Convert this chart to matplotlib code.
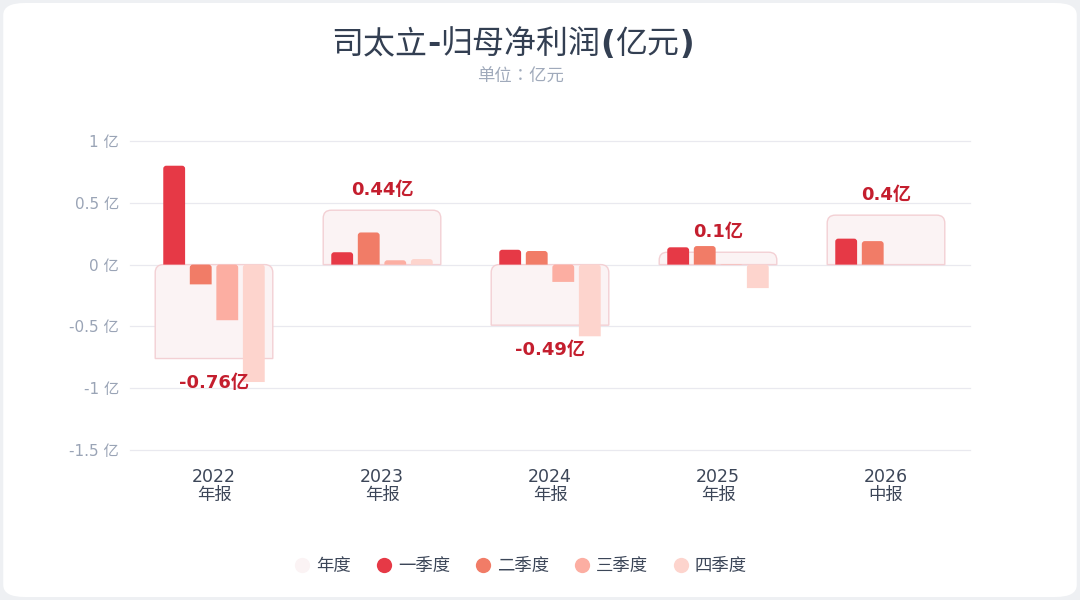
import matplotlib
matplotlib.use('Agg')
import matplotlib.pyplot as plt
import numpy as np
from matplotlib.patches import FancyBboxPatch, PathPatch
from matplotlib.path import Path
from matplotlib.lines import Line2D

plt.rcParams['font.family'] = ['DejaVu Sans', 'Noto Sans CJK SC']

years = ['2022', '2023', '2024', '2025', '2026']
periods = ['年报', '年报', '年报', '年报', '中报']
annual = [-0.76, 0.44, -0.49, 0.10, 0.40]
q1 = [0.80, 0.10, 0.12, 0.14, 0.21]
q2 = [-0.16, 0.26, 0.11, 0.15, 0.19]
q3 = [-0.45, 0.035, -0.14, -0.003, np.nan]
q4 = [-0.95, 0.045, -0.58, -0.19, np.nan]
annual_labels = ['-0.76亿', '0.44亿', '-0.49亿', '0.1亿', '0.4亿']
yticks = [-1.5, -1, -0.5, 0, 0.5, 1]
ytick_labels = ['-1.5 亿', '-1 亿', '-0.5 亿', '0 亿', '0.5 亿', '1 亿']

quarters = [q1, q2, q3, q4]
q_names = ['一季度', '二季度', '三季度', '四季度']
q_colors = ['#e63946', '#f17c67', '#fcaea2', '#fdd4cd']
box_face = '#fbf3f4'
box_edge = '#f3d0d4'
label_color = '#c41e2e'
text_dark = '#3c4658'

# title pieces: CJK in regular weight, punctuation bold (as in the reference)
title_parts = [('司太立', 'normal'), ('-', 'bold'), ('归母净利润', 'normal'),
               ('(', 'bold'), ('亿元', 'normal'), (')', 'bold')]


def top_rounded(ax, x0, w, v, r_px, **kw):
    # rectangle from 0 to v, rounded on its upper corners (radius in pixels)
    if v is None or np.isnan(v) or v == 0:
        return
    bb = ax.get_position()
    fw, fh = ax.figure.get_size_inches() * ax.figure.dpi
    xl, yl = ax.get_xlim(), ax.get_ylim()
    px_x = bb.width * fw / (xl[1] - xl[0])
    px_y = bb.height * fh / (yl[1] - yl[0])
    y0, y1 = min(0, v), max(0, v)
    rx = min(r_px / px_x, w / 2)
    ry = min(r_px / px_y, y1 - y0)
    x1 = x0 + w
    verts = [(x0, y0), (x0, y1 - ry), (x0, y1), (x0 + rx, y1), (x1 - rx, y1),
             (x1, y1), (x1, y1 - ry), (x1, y0), (x0, y0)]
    codes = [Path.MOVETO, Path.LINETO, Path.CURVE3, Path.CURVE3, Path.LINETO,
             Path.CURVE3, Path.CURVE3, Path.LINETO, Path.CLOSEPOLY]
    ax.add_patch(PathPatch(Path(verts, codes), **kw))


fig = plt.figure(figsize=(10.8, 6), dpi=100)
fig.patch.set_facecolor('#eef0f3')
card = FancyBboxPatch((0.003, 0.005), 0.994, 0.99, boxstyle='round,pad=0,rounding_size=0.02',
                      transform=fig.transFigure, facecolor='white', edgecolor='none', zorder=-10)
fig.patches.append(card)

ax = fig.add_axes([130 / 1080, 0.25, 840 / 1080, 0.515])
ax.set_facecolor('none')
x = np.arange(len(years))
ax.set_xlim(-0.5, len(years) - 0.5)
ax.set_ylim(-1.5, 1.0)

for yt in yticks:
    ax.axhline(yt, color='#e9e9ef', lw=0.9, zorder=0, clip_on=False)

box_w = 0.70
for i, v in enumerate(annual):
    top_rounded(ax, x[i] - box_w / 2, box_w, v, 8, facecolor=box_face,
                edgecolor=box_edge, lw=1, zorder=1)
    if v >= 0:
        ax.text(x[i], v + 0.09, annual_labels[i], ha='center', va='bottom',
                fontsize=13, fontweight='bold', color=label_color, zorder=5)
    else:
        ax.text(x[i], v - 0.125, annual_labels[i], ha='center', va='top',
                fontsize=13, fontweight='bold', color=label_color, zorder=5)

step = 0.158
bw = 0.13
offsets = [-1.5 * step, -0.5 * step, 0.5 * step, 1.5 * step]
for k, q in enumerate(quarters):
    for i, v in enumerate(q):
        top_rounded(ax, x[i] + offsets[k] - bw / 2, bw, v, 3, facecolor=q_colors[k],
                    edgecolor='none', lw=0, zorder=2)

ax.set_yticks(yticks)
ax.set_yticklabels(ytick_labels, fontsize=11, color='#9aa4b6')
ax.set_xticks(x)
ax.set_xticklabels([])
xt = ax.get_xaxis_transform()
for i in x:
    ax.text(i, -0.087, years[i], transform=xt, ha='center', va='center',
            fontsize=12.5, color=text_dark)
    ax.text(i, -0.145, periods[i], transform=xt, ha='center', va='center',
            fontsize=12.5, color=text_dark)
ax.tick_params(axis='both', length=0)
ax.tick_params(axis='y', pad=8)
for s in ax.spines.values():
    s.set_visible(False)

renderer = fig.canvas.get_renderer()
xpos = 331
for txt, wt in title_parts:
    t = fig.text(xpos / 1080, 1 - 53 / 600, txt, ha='left', va='baseline',
                 fontsize=23, fontweight=wt, color='#333f52')
    xpos += t.get_window_extent(renderer).width
fig.text(520 / 1080, 1 - 77 / 600, '单位：亿元', ha='center', va='center',
         fontsize=12.5, color='#a0aabb', family=['Noto Sans CJK TC', 'DejaVu Sans'])

handles = [Line2D([], [], marker='o', linestyle='none', markersize=11,
                  markerfacecolor=box_face, markeredgecolor='none')]
for c in q_colors:
    handles.append(Line2D([], [], marker='o', linestyle='none', markersize=11,
                          markerfacecolor=c, markeredgecolor='none'))
leg = fig.legend(handles, ['年度'] + q_names, loc='center', bbox_to_anchor=(0.481, 1 - 566 / 600),
                 ncol=5, frameon=False, fontsize=12.5, handletextpad=0.2, columnspacing=1.3,
                 handlelength=1.2)
for t in leg.get_texts():
    t.set_color(text_dark)

fig.savefig('out.png', dpi=100, facecolor=fig.get_facecolor())
